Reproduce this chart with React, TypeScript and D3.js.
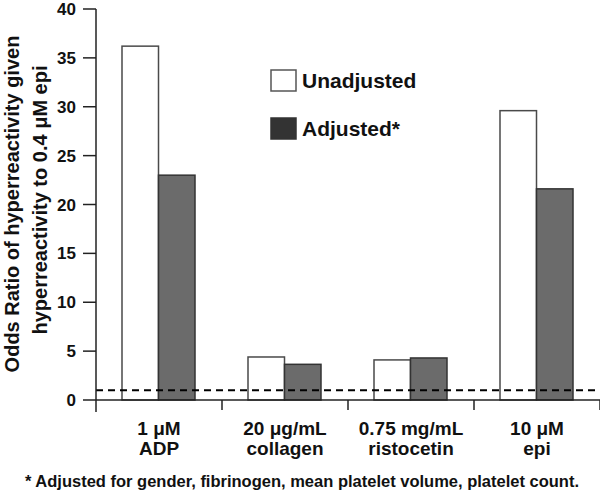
import React from 'react';
import * as d3 from 'd3';

// values
const categories = ['ADP', 'collagen', 'ristocetin', 'epi'];
const categoryLine1 = ['1 \u03bcM', '20 \u03bcg/mL', '0.75 mg/mL', '10 \u03bcM'];
const categoryLine2 = ['ADP', 'collagen', 'ristocetin', 'epi'];
const series = ['Unadjusted', 'Adjusted*'];
const unadjusted = [36.2, 4.4, 4.1, 29.6];
const adjusted = [23.0, 3.65, 4.3, 21.6];
const yTicks = [0, 5, 10, 15, 20, 25, 30, 35, 40];
const referenceLine = 1;

const FONT = '"Liberation Sans", Arial, Helvetica, sans-serif';
const W = 600;
const H = 494;

const App: React.FC = () => {
  const left = 96;
  const right = 600;
  const base = 400;

  const y = d3.scaleLinear().domain([0, 40]).range([base, 9]);
  const x0 = d3.scaleBand<string>().domain(categories).range([left, right]).padding(0);
  const x1 = d3.scaleBand<string>().domain(series).range([26, 99]).padding(0);

  const values = [unadjusted, adjusted];
  const fills = ['#ffffff', '#6b6b6b'];
  const strokes = ['#4a4a4a', '#333333'];

  return (
    <>
      <style>{`body{margin:0}`}</style>
      <svg width={W} height={H} style={{display: 'block', fontFamily: FONT}}>
        <rect width={W} height={H} fill="#fff" />

        {/* bars */}
        {categories.map((c, i) => (
          <g key={c} transform={`translate(${x0(c)},0)`}>
            {series.map((s, j) => (
              <rect
                key={s}
                x={x1(s)}
                y={y(values[j][i])}
                width={x1.bandwidth()}
                height={base - y(values[j][i])}
                fill={fills[j]}
                stroke={strokes[j]}
                strokeWidth={1.5}
              />
            ))}
          </g>
        ))}

        {/* reference line at OR = 1 */}
        <line
          x1={left}
          x2={right}
          y1={y(referenceLine)}
          y2={y(referenceLine)}
          stroke="#000"
          strokeWidth={2}
          strokeDasharray="7,5"
        />

        {/* x axis */}
        <line x1={left} x2={right} y1={base} y2={base} stroke="#222" strokeWidth={1.5} />
        {categories.map((c) => (
          <line
            key={c}
            x1={(x0(c) || 0) + x0.bandwidth()}
            x2={(x0(c) || 0) + x0.bandwidth()}
            y1={base}
            y2={base + 10}
            stroke="#222"
            strokeWidth={1.5}
          />
        ))}
        {categories.map((c, i) => (
          <text
            key={c}
            x={(x0(c) || 0) + x0.bandwidth() / 2}
            textAnchor="middle"
            fontWeight="bold"
            fontSize={19}
            fill="#111"
          >
            <tspan x={(x0(c) || 0) + x0.bandwidth() / 2} y={435}>
              {categoryLine1[i]}
            </tspan>
            <tspan x={(x0(c) || 0) + x0.bandwidth() / 2} y={455}>
              {categoryLine2[i]}
            </tspan>
          </text>
        ))}

        {/* y axis */}
        <line x1={left} x2={left} y1={y(40)} y2={412} stroke="#222" strokeWidth={1.5} />
        {yTicks.map((t) => (
          <g key={t}>
            <line x1={83} x2={left} y1={y(t)} y2={y(t)} stroke="#222" strokeWidth={1.5} />
            <text
              x={76}
              y={y(t)}
              dy="0.36em"
              textAnchor="end"
              fontWeight="bold"
              fontSize={17}
              fill="#111"
            >
              {t}
            </text>
          </g>
        ))}
        <text
          transform="rotate(-90)"
          textAnchor="middle"
          fontWeight="bold"
          fontSize={20}
          fill="#111"
        >
          <tspan x={-204} y={19}>
            Odds Ratio of hyperreactivity given
          </tspan>
          <tspan x={-200} y={47}>
            hyperreactivity to 0.4 {'\u03bc'}M epi
          </tspan>
        </text>

        {/* legend */}
        {series.map((s, j) => (
          <g key={s} transform={`translate(271,${70 + j * 48})`}>
            <rect
              width={25}
              height={21}
              fill={j === 0 ? '#fff' : '#333'}
              stroke={j === 0 ? '#555' : '#333'}
              strokeWidth={1.5}
            />
            <text x={31} y={18} fontWeight="bold" fontSize={21} fill="#111">
              {s}
            </text>
          </g>
        ))}

        {/* footnote */}
        <text x={302} y={487} textAnchor="middle" fontWeight="bold" fontSize={16.5} fill="#111">
          * Adjusted for gender, fibrinogen, mean platelet volume, platelet count.
        </text>
      </svg>
    </>
  );
};

export default App;
